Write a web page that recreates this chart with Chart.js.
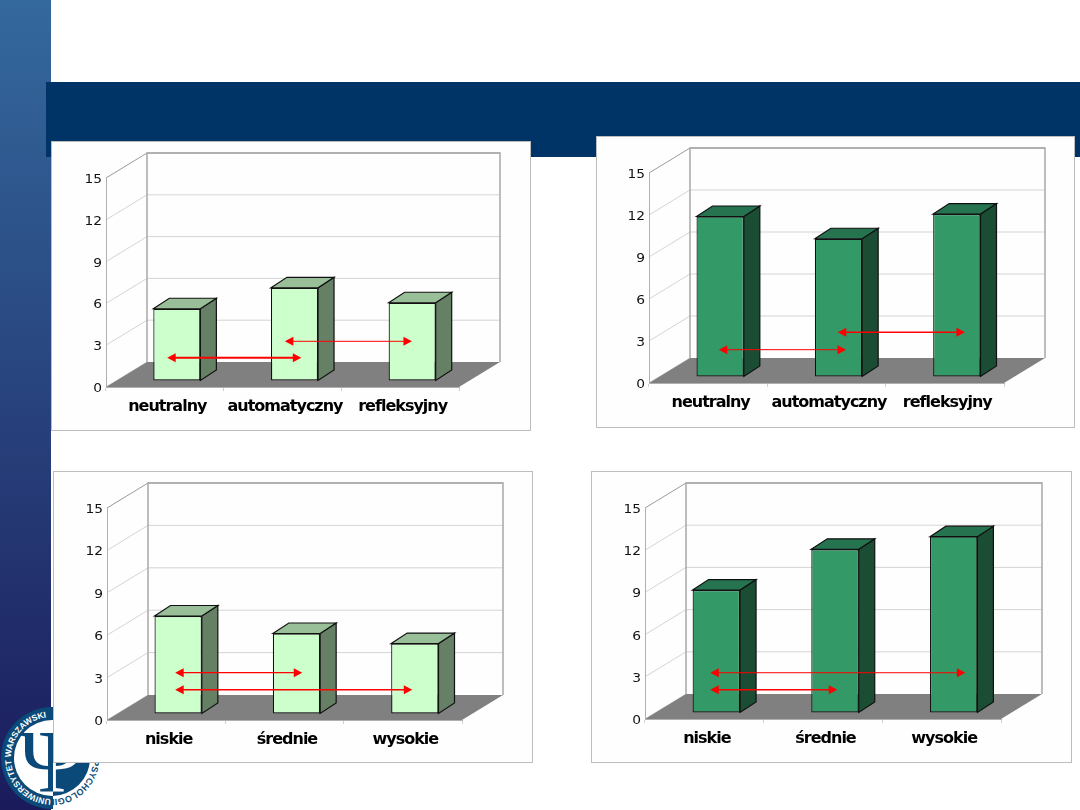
<!DOCTYPE html>
<html>
<head>
<meta charset="utf-8">
<title>Wykresy</title>
<script src="https://cdn.jsdelivr.net/npm/chart.js@4"></script>
<style>
  html, body { margin: 0; padding: 0; background: #fff; overflow: hidden; }
  #slide { position: relative; width: 1080px; height: 810px; overflow: hidden; }
  #strip { position: absolute; left: 0; top: 0; width: 51px; height: 810px; background: linear-gradient(#34699d, #1b1b5c); }
  #band { position: absolute; left: 46px; top: 82px; width: 1034px; height: 75px; background: #003366; }
  #logo { position: absolute; left: 0; top: 700px; }
  canvas { position: absolute; display: block; background: #fefefe; outline: 1px solid #bdbdbd; }
</style>
</head>
<body>
<div id="slide">
  <div id="strip"></div>
  <div id="band"></div>
  <svg id="logo" width="110" height="110" viewBox="0 700 110 110">
    <defs>
      <clipPath id="leftHalf"><rect x="0" y="700" width="53" height="110"/></clipPath>
      <clipPath id="rightHalf"><rect x="53" y="700" width="60" height="110"/></clipPath>
      <path id="arcLeft" d="M 52 799 A 41 41 0 0 1 52 717" fill="none"/>
      <path id="arcRight" d="M 52 717 A 41 41 0 0 1 52 799" fill="none"/>
    </defs>
    <g clip-path="url(#leftHalf)">
      <circle cx="52" cy="758" r="51" fill="#0b4a78"/>
      <circle cx="52" cy="758" r="38" fill="#fff"/>
      <text x="52" y="791" text-anchor="middle" font-family="Liberation Serif" font-size="88" fill="#0b4a78">Ψ</text>
    </g>
    <g clip-path="url(#rightHalf)">
      <circle cx="52" cy="758" r="51" fill="#fff"/>
      <circle cx="52" cy="758" r="38" fill="#0b4a78"/>
      <text x="52" y="791" text-anchor="middle" font-family="Liberation Serif" font-size="88" fill="#fff">Ψ</text>
    </g>
    <text font-family="Liberation Sans" font-size="8.5" font-weight="bold" fill="#fff">
      <textPath href="#arcLeft" startOffset="1" textLength="122">UNIWERSYTET WARSZAWSKI</textPath>
    </text>
    <text font-family="Liberation Sans" font-size="9" font-weight="bold" fill="#0b4a78" text-anchor="end">
      <textPath href="#arcRight" startOffset="100%">WYDZIAŁ PSYCHOLOGII</textPath>
    </text>
  </svg>
</div>

<script>
// dane
const categoriesTop = ['neutralny', 'automatyczny', 'refleksyjny'];
const categoriesBottom = ['niskie', 'średnie', 'wysokie'];
const yTicks = [0, 3, 6, 9, 12, 15];

const valuesTopLeft = [5.15, 6.65, 5.58];
const valuesTopRight = [11.43, 9.84, 11.6];
const valuesBottomLeft = [6.9, 5.66, 4.95];
const valuesBottomRight = [8.7, 11.6, 12.5];

// czerwone strzalki: od / do (indeks kategorii), poziom (wartosc osi y)
const arrowsFromTopLeft = [0.02, 1.02];
const arrowsToTopLeft = [1.16, 2.1];
const arrowsLevelTopLeft = [2.1, 3.28];

const arrowsFromTopRight = [0.09, 1.095];
const arrowsToTopRight = [1.165, 2.17];
const arrowsLevelTopRight = [2.38, 3.62];

const arrowsFromBottomLeft = [0.076, 0.076];
const arrowsToBottomLeft = [1.15, 2.08];
const arrowsLevelBottomLeft = [3.35, 2.14];

const arrowsFromBottomRight = [0.05, 0.05];
const arrowsToBottomRight = [2.2, 1.12];
const arrowsLevelBottomRight = [3.29, 2.08];

const light = { front: '#ccffcc', top: '#99bf99', side: '#668066' };
const dark = { front: '#339966', top: '#267350', side: '#1a4d33' };

const wallDepth = { x: 41, y: -25 };
const barDepth = { x: 16, y: -10.5 };
const barShift = { x: 12, y: -6.5 };

const panels = [
  { box: [52, 142, 478, 288], plot: [54, 36, 71, 43], labels: categoriesTop, values: valuesTopLeft, colors: light,
    from: arrowsFromTopLeft, to: arrowsToTopLeft, level: arrowsLevelTopLeft, widths: [2.2, 1] },
  { box: [597, 137, 477, 290], plot: [52, 36, 70, 44], labels: categoriesTop, values: valuesTopRight, colors: dark,
    from: arrowsFromTopRight, to: arrowsToTopRight, level: arrowsLevelTopRight, widths: [1, 1.5] },
  { box: [54, 472, 478, 290], plot: [53, 36, 70, 42], labels: categoriesBottom, values: valuesBottomLeft, colors: light,
    from: arrowsFromBottomLeft, to: arrowsToBottomLeft, level: arrowsLevelBottomLeft, widths: [1.3, 1.3] },
  { box: [592, 472, 479, 290], plot: [53, 36, 70, 43], labels: categoriesBottom, values: valuesBottomRight, colors: dark,
    from: arrowsFromBottomRight, to: arrowsToBottomRight, level: arrowsLevelBottomRight, widths: [1, 1.5] }
];

function poly(ctx, pts, fill) {
  ctx.beginPath();
  pts.forEach((p, i) => i ? ctx.lineTo(p[0], p[1]) : ctx.moveTo(p[0], p[1]));
  ctx.closePath();
  ctx.fillStyle = fill;
  ctx.fill();
}

// sciesnione etykiety kategorii, rozciagniete cyfry osi y
function tuneLabels(chart) {
  const ctx = chart.ctx;
  const xs = chart.scales.x, ys = chart.scales.y;
  if (xs.tuned) return;
  const drawX = xs.drawLabels, drawY = ys.drawLabels;
  xs.drawLabels = function (area) {
    ctx.letterSpacing = '-1px';
    drawX.call(this, area);
    ctx.letterSpacing = '0px';
  };
  ys.drawLabels = function (area) {
    const rx = ys.right - 4;
    ctx.save();
    ctx.translate(rx, 0);
    ctx.scale(1.2, 1);
    ctx.translate(-rx, 0);
    drawY.call(this, area);
    ctx.restore();
  };
  xs.tuned = true;
}

// sciany i podloga wykresu 3D
const wallsPlugin = {
  id: 'walls',
  beforeDraw(chart) {
    const ctx = chart.ctx;
    const a = chart.chartArea;
    const y = chart.scales.y;
    const dx = wallDepth.x, dy = wallDepth.y;
    ctx.save();
    ctx.lineWidth = 1;
    yTicks.forEach(v => {
      const py = y.getPixelForValue(v);
      ctx.strokeStyle = v === 15 ? '#9a9a9a' : '#d4d4d4';
      ctx.beginPath();
      ctx.moveTo(a.left, py);
      ctx.lineTo(a.left + dx, py + dy);
      if (v > 0) ctx.lineTo(a.right + dx, py + dy);
      ctx.stroke();
    });
    poly(ctx, [[a.left, a.bottom], [a.right, a.bottom], [a.right + dx, a.bottom + dy], [a.left + dx, a.bottom + dy]], '#808080');
    ctx.strokeStyle = '#a8a8a8';
    ctx.lineWidth = 1.5;
    ctx.beginPath();
    ctx.moveTo(a.left + dx, a.bottom + dy);
    ctx.lineTo(a.left + dx, a.top + dy);
    ctx.lineTo(a.right + dx, a.top + dy);
    ctx.lineTo(a.right + dx, a.bottom + dy);
    ctx.stroke();
    ctx.restore();
    tuneLabels(chart);
  },
  // boki i gora slupkow, przod rysuje Chart.js
  beforeDatasetDraw(chart, args) {
    const ctx = chart.ctx;
    const colors = chart.data.datasets[args.index].faces;
    ctx.save();
    ctx.translate(barShift.x, barShift.y);
    const dx = barDepth.x, dy = barDepth.y;
    args.meta.data.forEach(bar => {
      const l = bar.x - bar.width / 2, r = bar.x + bar.width / 2;
      const side = [[r, bar.y], [r + dx, bar.y + dy], [r + dx, bar.base + dy], [r, bar.base]];
      const top = [[l, bar.y], [l + dx, bar.y + dy], [r + dx, bar.y + dy], [r, bar.y]];
      ctx.strokeStyle = '#111';
      ctx.lineWidth = 1.2;
      poly(ctx, side, colors.side);
      ctx.stroke();
      poly(ctx, top, colors.top);
      ctx.stroke();
    });
  },
  afterDatasetDraw(chart) {
    chart.ctx.restore();
  }
};

function drawHead(ctx, x, y, dir) {
  poly(ctx, [[x, y], [x + dir * 8.5, y - 4.5], [x + dir * 8.5, y + 4.5]], '#ff0000');
}

// czerwone strzalki w jednostkach osi
function arrowsPlugin(panel) {
  return {
    id: 'arrows',
    afterDatasetsDraw(chart) {
      const ctx = chart.ctx;
      const { x, y } = chart.scales;
      ctx.save();
      panel.level.forEach((lv, i) => {
        const x1 = x.getPixelForValue(panel.from[i]);
        const x2 = x.getPixelForValue(panel.to[i]);
        const py = y.getPixelForValue(lv);
        ctx.strokeStyle = '#ff0000';
        ctx.lineWidth = panel.widths[i];
        ctx.beginPath();
        ctx.moveTo(x1 + 4, py);
        ctx.lineTo(x2 - 4, py);
        ctx.stroke();
        drawHead(ctx, x1, py, 1);
        drawHead(ctx, x2, py, -1);
      });
      ctx.restore();
    }
  };
}

panels.forEach(panel => {
  const canvas = document.createElement('canvas');
  canvas.width = panel.box[2];
  canvas.height = panel.box[3];
  canvas.style.left = panel.box[0] + 'px';
  canvas.style.top = panel.box[1] + 'px';
  document.getElementById('slide').appendChild(canvas);

  new Chart(canvas.getContext('2d'), {
    type: 'bar',
    data: {
      labels: panel.labels,
      datasets: [{
        data: panel.values,
        backgroundColor: panel.colors.front,
        borderColor: '#111',
        borderWidth: 1.2,
        borderSkipped: false,
        faces: panel.colors,
        barPercentage: 0.4,
        categoryPercentage: 1,
        clip: false
      }]
    },
    options: {
      responsive: false,
      animation: false,
      layout: { padding: { left: 0, top: panel.plot[1], right: panel.plot[2], bottom: 0 } },
      plugins: { legend: { display: false }, tooltip: { enabled: false } },
      scales: {
        x: {
          afterFit: s => { s.height = panel.plot[3]; },
          grid: { drawOnChartArea: false, tickLength: 4, color: '#d0d0d0' },
          border: { color: '#b0b0b0' },
          ticks: {
            autoSkip: false,
            maxRotation: 0,
            padding: 6.5,
            labelOffset: 2.5,
            color: '#000',
            font: { family: 'DejaVu Sans', size: 16, weight: 'bold' }
          }
        },
        y: {
          min: 0,
          max: 15,
          afterFit: s => { s.width = panel.plot[0]; },
          afterBuildTicks: s => { s.ticks = yTicks.map(v => ({ value: v })); },
          grid: { display: false, drawTicks: false, tickLength: 0 },
          border: { color: '#b0b0b0' },
          ticks: { padding: 4, labelOffset: 2, color: '#111', font: { family: 'DejaVu Sans', size: 11.5 } }
        }
      }
    },
    plugins: [wallsPlugin, arrowsPlugin(panel)]
  });
});
</script>
</body>
</html>
